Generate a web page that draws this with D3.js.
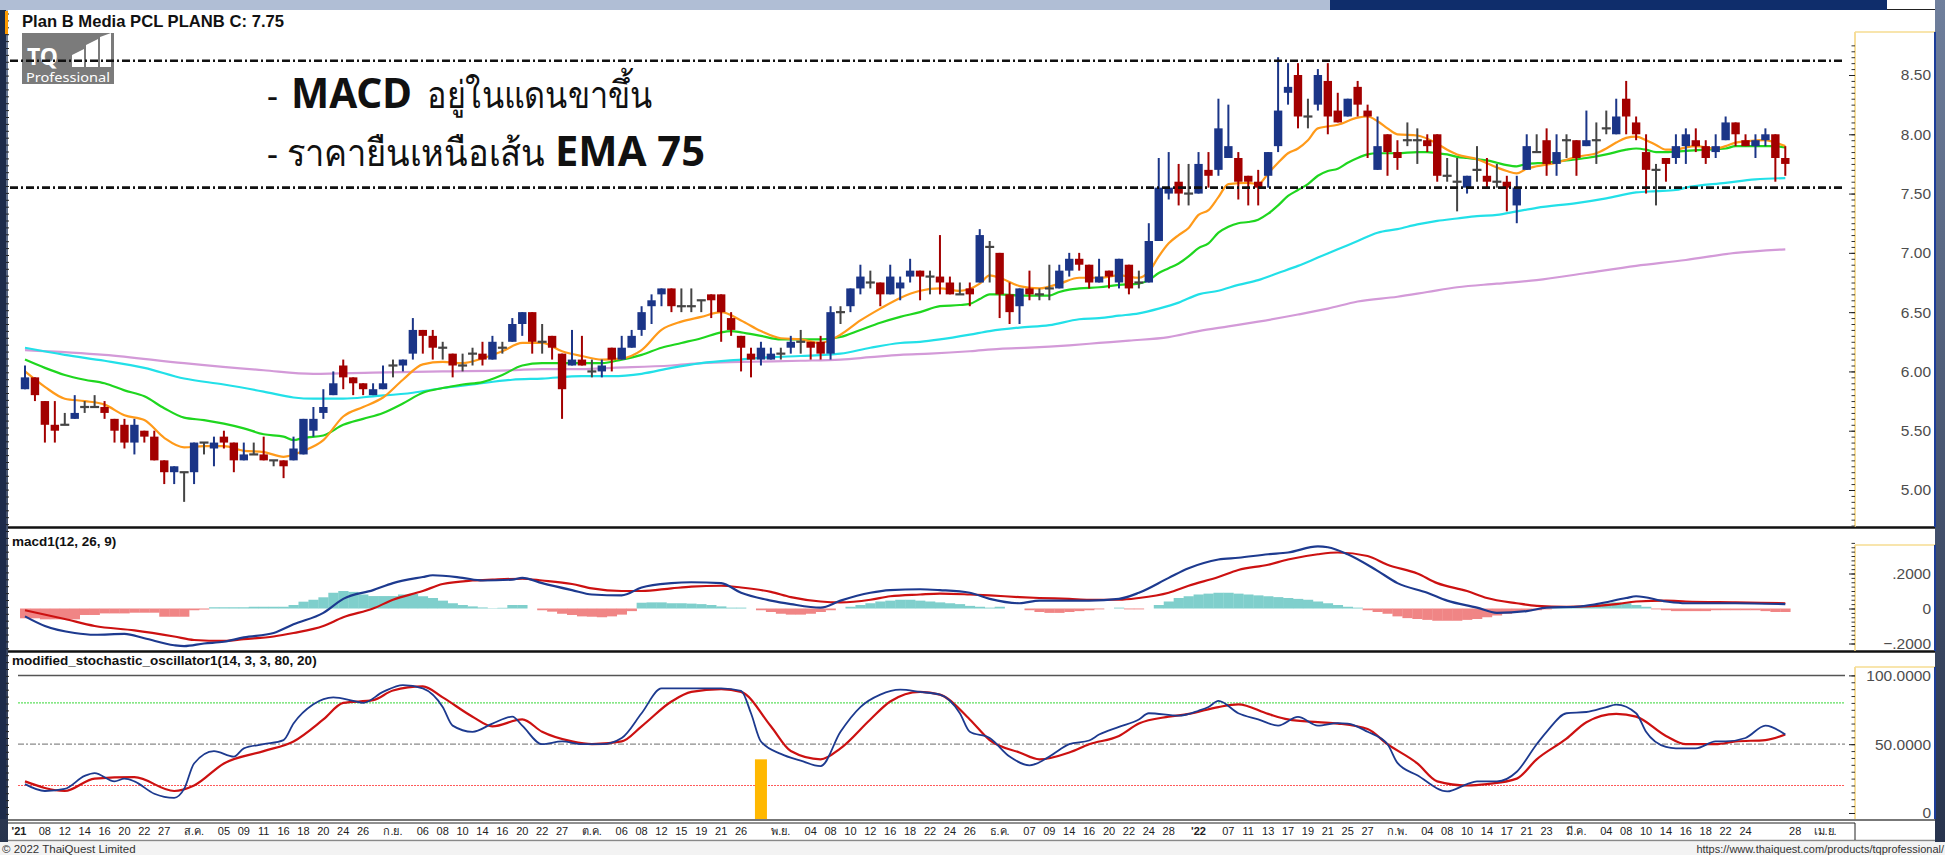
<!DOCTYPE html>
<html>
<head>
<meta charset="utf-8">
<script src="https://cdn.jsdelivr.net/npm/d3@7"></script>
<style>
  body { margin: 0; background: #34425e; overflow: hidden; }
  svg { display: block; }
</style>
</head>
<body>
<script>
// ---------- DATA ----------
const open = [5.85,5.95,5.75,5.55,5.55,5.60,5.70,5.70,5.70,5.60, 5.55,5.40,5.50,5.45,5.25,5.15,5.15,5.15,5.40,5.35,
  5.45,5.40,5.25,5.30,5.30,5.25,5.25,5.25,5.30,5.50, 5.65,5.80,6.05,5.95,5.90,5.80,5.85,6.05,6.05,6.15,
  6.35,6.30,6.20,6.15,6.05,6.15,6.15,6.10,6.20,6.25, 6.40,6.50,6.25,6.30,6.15,6.05,6.10,6.00,6.00,6.20,
  6.10,6.20,6.35,6.55,6.65,6.70,6.55,6.55,6.60,6.65, 6.65,6.45,6.30,6.15,6.10,6.10,6.15,6.20,6.25,6.25,
  6.25,6.15,6.50,6.55,6.70,6.75,6.75,6.65,6.70,6.80, 6.85,6.80,6.80,6.75,6.65,6.70,6.75,7.05,7.00,6.65,
  6.55,6.70,6.65,6.70,6.70,6.85,6.95,6.90,6.75,6.85, 6.75,6.90,6.75,6.75,7.10,7.50,7.60,7.50,7.50,7.70,
  7.70,7.80,7.80,7.65,7.60,7.65,7.90,8.35,8.50,8.15, 8.25,8.45,8.20,8.15,8.40,8.20,7.70,8.00,7.85,7.95,
  7.95,7.95,8.00,7.65,7.60,7.55,7.70,7.65,7.60,7.60, 7.40,7.70,7.85,7.95,7.75,7.95,7.95,7.90,7.95,8.05,
  8.00,8.30,8.10,7.85,7.70,7.80,7.80,7.90,7.95,7.90, 7.85,7.95,8.10,7.95,7.90,7.95,8.00,7.80];
const high = [6.05,5.95,5.75,5.75,5.65,5.80,5.75,5.80,5.75,5.60, 5.60,5.60,5.50,5.50,5.25,5.20,5.15,5.40,5.40,5.45,
  5.50,5.40,5.40,5.40,5.45,5.25,5.25,5.45,5.60,5.70, 5.85,6.00,6.10,5.95,5.90,5.90,6.05,6.10,6.10,6.45,
  6.35,6.35,6.25,6.15,6.15,6.20,6.25,6.30,6.25,6.45, 6.50,6.50,6.40,6.30,6.15,6.35,6.30,6.10,6.10,6.20,
  6.30,6.35,6.55,6.65,6.70,6.70,6.70,6.70,6.60,6.65, 6.65,6.50,6.30,6.20,6.25,6.20,6.20,6.30,6.35,6.25,
  6.30,6.55,6.55,6.70,6.90,6.85,6.75,6.90,6.80,6.95, 6.85,6.85,7.15,6.80,6.75,6.75,7.20,7.10,7.00,6.75,
  6.70,6.85,6.70,6.90,6.90,7.00,7.00,6.90,6.95,6.85, 6.95,6.90,6.85,7.25,7.80,7.85,7.75,7.75,7.85,7.85,
  8.30,8.25,7.85,7.65,7.70,7.85,8.65,8.60,8.60,8.30, 8.55,8.60,8.35,8.30,8.45,8.25,8.15,8.00,7.95,8.10,
  8.05,8.00,8.00,7.80,7.80,7.65,7.90,7.80,7.75,7.65, 7.65,8.00,8.00,8.05,8.00,8.00,7.95,8.20,8.10,8.20,
  8.30,8.45,8.15,8.00,7.75,7.80,8.00,8.05,8.05,7.95, 8.00,8.15,8.10,8.00,8.00,8.05,8.00,7.90];
const low = [5.85,5.75,5.40,5.40,5.55,5.60,5.65,5.70,5.60,5.40, 5.35,5.30,5.40,5.25,5.05,5.05,4.90,5.05,5.30,5.20,
  5.35,5.15,5.25,5.30,5.25,5.20,5.10,5.25,5.30,5.45, 5.60,5.80,5.85,5.80,5.80,5.80,5.85,5.95,6.00,6.10,
  6.15,6.10,6.10,5.95,6.00,6.05,6.05,6.10,6.15,6.25, 6.30,6.15,6.15,6.10,5.60,6.05,6.05,5.95,5.95,6.00,
  6.10,6.20,6.30,6.40,6.55,6.50,6.50,6.50,6.50,6.45, 6.25,6.30,6.00,5.95,6.05,6.10,6.10,6.15,6.15,6.10,
  6.10,6.10,6.40,6.50,6.65,6.70,6.55,6.65,6.60,6.75, 6.60,6.65,6.65,6.65,6.65,6.55,6.75,6.75,6.45,6.40,
  6.40,6.60,6.60,6.60,6.70,6.80,6.85,6.70,6.75,6.70, 6.70,6.65,6.70,6.75,7.10,7.45,7.40,7.40,7.50,7.55,
  7.65,7.80,7.45,7.40,7.40,7.55,7.85,8.25,8.05,8.05, 8.20,8.00,8.10,8.15,8.15,7.80,7.70,7.65,7.70,7.90,
  7.75,7.85,7.60,7.60,7.35,7.50,7.60,7.55,7.55,7.35, 7.25,7.70,7.85,7.65,7.65,7.80,7.65,7.90,7.75,8.00,
  8.00,8.00,7.95,7.50,7.40,7.60,7.75,7.75,7.85,7.75, 7.80,7.95,7.90,7.90,7.80,7.90,7.60,7.65];
const close = [5.95,5.80,5.55,5.50,5.55,5.65,5.70,5.70,5.65,5.50, 5.40,5.55,5.45,5.25,5.15,5.20,5.15,5.40,5.40,5.40,
  5.40,5.25,5.30,5.30,5.25,5.25,5.20,5.35,5.60,5.60, 5.70,5.90,5.95,5.90,5.85,5.85,5.90,6.05,6.10,6.35,
  6.30,6.20,6.20,6.05,6.05,6.15,6.10,6.25,6.20,6.40, 6.50,6.25,6.25,6.20,5.85,6.10,6.05,6.00,6.05,6.10,
  6.20,6.30,6.50,6.60,6.70,6.55,6.55,6.55,6.60,6.60, 6.50,6.35,6.20,6.10,6.20,6.15,6.15,6.25,6.25,6.20,
  6.15,6.50,6.50,6.70,6.80,6.75,6.65,6.80,6.75,6.85, 6.80,6.80,6.75,6.65,6.65,6.65,7.15,7.05,6.65,6.50,
  6.70,6.65,6.65,6.70,6.85,6.95,6.90,6.75,6.80,6.80, 6.95,6.70,6.75,7.10,7.55,7.55,7.50,7.50,7.75,7.65,
  8.05,7.90,7.60,7.60,7.55,7.85,8.20,8.40,8.15,8.15, 8.50,8.15,8.10,8.30,8.25,8.15,7.90,7.85,7.80,7.95,
  7.95,7.90,7.65,7.65,7.60,7.65,7.70,7.60,7.60,7.55, 7.55,7.90,7.85,7.75,7.85,7.95,7.80,7.95,7.95,8.05,
  8.15,8.15,8.00,7.70,7.70,7.75,7.90,8.00,7.90,7.80, 7.90,8.10,8.00,7.90,7.95,8.00,7.80,7.75];

// moving averages as [day index, value]
const ema10 = [[0,6.00],[2,5.87],[4,5.77],[6,5.75],[8,5.72],[10,5.63],[12,5.59],[14,5.44],[16,5.36],[18,5.37],[20,5.37],[22,5.33],[24,5.32],[26,5.28],[28,5.33],[30,5.42],[32,5.62],[34,5.70],[36,5.78],[38,5.93],[40,6.06],[42,6.08],[44,6.07],[46,6.11],[48,6.17],[50,6.24],[52,6.24],[54,6.17],[56,6.13],[58,6.10],[60,6.11],[62,6.18],[64,6.35],[66,6.42],[68,6.46],[70,6.50],[72,6.43],[74,6.34],[76,6.28],[78,6.27],[80,6.24],[82,6.31],[84,6.43],[86,6.53],[88,6.62],[90,6.68],[92,6.70],[94,6.68],[96,6.74],[97,6.81],[98,6.79],[100,6.72],[102,6.70],[104,6.74],[106,6.79],[108,6.79],[110,6.81],[112,6.79],[113,6.84],[114,6.97],[115,7.08],[116,7.15],[117,7.21],[118,7.32],[119,7.36],[120,7.47],[121,7.58],[123,7.59],[124,7.58],[125,7.67],[126,7.76],[127,7.84],[128,7.88],[129,7.95],[130,8.05],[132,8.08],[134,8.14],[135,8.15],[136,8.11],[137,8.05],[138,8.00],[140,7.99],[142,7.92],[143,7.87],[144,7.83],[146,7.79],[148,7.72],[149,7.69],[150,7.67],[151,7.71],[152,7.73],[154,7.76],[156,7.81],[158,7.84],[159,7.88],[160,7.93],[161,7.97],[162,7.98],[163,7.95],[164,7.91],[165,7.87],[166,7.87],[167,7.89],[168,7.90],[170,7.88],[171,7.90],[172,7.93],[173,7.94],[175,7.95],[176,7.93],[177,7.90]];
const ema25 = [[0,6.10],[2,6.03],[4,5.97],[6,5.93],[8,5.90],[10,5.84],[12,5.79],[14,5.69],[16,5.61],[18,5.59],[20,5.56],[22,5.52],[24,5.47],[26,5.45],[27,5.42],[28,5.44],[30,5.46],[32,5.55],[34,5.60],[36,5.65],[38,5.73],[40,5.82],[42,5.86],[44,5.89],[46,5.91],[48,5.97],[50,6.05],[52,6.07],[54,6.07],[56,6.07],[58,6.07],[60,6.10],[62,6.14],[64,6.20],[66,6.24],[68,6.28],[70,6.33],[71,6.34],[72,6.33],[74,6.30],[76,6.27],[78,6.27],[80,6.27],[82,6.29],[84,6.35],[86,6.41],[88,6.46],[90,6.50],[92,6.55],[94,6.56],[95,6.57],[96,6.61],[97,6.65],[98,6.65],[100,6.64],[102,6.64],[103,6.64],[104,6.67],[105,6.69],[106,6.70],[108,6.71],[110,6.73],[112,6.74],[113,6.77],[114,6.83],[115,6.87],[116,6.91],[117,6.97],[118,7.04],[119,7.08],[120,7.17],[121,7.22],[122,7.25],[123,7.26],[124,7.28],[125,7.33],[126,7.40],[127,7.48],[128,7.53],[129,7.58],[130,7.65],[131,7.69],[132,7.71],[133,7.76],[134,7.80],[135,7.83],[136,7.84],[138,7.84],[140,7.85],[141,7.85],[142,7.84],[143,7.83],[144,7.81],[145,7.80],[146,7.79],[147,7.78],[148,7.76],[149,7.74],[150,7.73],[151,7.75],[153,7.76],[155,7.78],[157,7.80],[159,7.83],[161,7.87],[162,7.88],[163,7.87],[164,7.85],[165,7.85],[167,7.86],[169,7.87],[171,7.88],[172,7.90],[174,7.90],[176,7.90],[177,7.89]];
const ema75 = [[0,6.20],[4,6.14],[8,6.09],[12,6.03],[16,5.94],[20,5.89],[24,5.83],[27,5.78],[29,5.77],[32,5.77],[35,5.79],[39,5.82],[42,5.86],[45,5.89],[49,5.93],[52,5.94],[56,5.96],[59,5.96],[62,5.98],[65,6.03],[68,6.07],[72,6.10],[75,6.12],[78,6.13],[82,6.15],[85,6.20],[88,6.24],[90,6.25],[92,6.27],[95,6.31],[97,6.34],[100,6.37],[103,6.39],[106,6.44],[108,6.45],[110,6.47],[112,6.49],[114,6.53],[116,6.58],[118,6.65],[120,6.68],[122,6.73],[124,6.77],[126,6.83],[128,6.89],[130,6.96],[132,7.03],[134,7.10],[136,7.17],[138,7.20],[140,7.24],[142,7.27],[144,7.29],[146,7.31],[148,7.32],[150,7.35],[152,7.38],[156,7.42],[159,7.46],[162,7.51],[164,7.52],[166,7.53],[167,7.55],[171,7.59],[174,7.62],[177,7.63]];
const ema200 = [[0,6.18],[8,6.14],[16,6.07],[24,6.01],[29,5.98],[35,5.99],[42,6.00],[49,6.01],[52,6.02],[56,6.02],[59,6.03],[65,6.05],[68,6.07],[72,6.08],[78,6.09],[82,6.10],[85,6.12],[88,6.14],[91,6.15],[95,6.17],[98,6.19],[101,6.20],[105,6.22],[108,6.24],[111,6.26],[115,6.29],[118,6.34],[121,6.38],[124,6.42],[128,6.48],[131,6.53],[134,6.59],[138,6.63],[141,6.67],[144,6.71],[148,6.74],[152,6.77],[157,6.83],[162,6.89],[167,6.94],[172,7.00],[177,7.03]];

const resistance = 8.62, support = 7.55;

const macdLine = [[0,-0.045],[2,-0.10],[5,-0.14],[7,-0.15],[10,-0.145],[12,-0.17],[15,-0.21],[16,-0.215],[18,-0.20],[20,-0.19],[22,-0.165],[25,-0.14],[27,-0.09],[30,-0.025],[32,0.055],[35,0.105],[37,0.145],[40,0.18],[41,0.19],[44,0.175],[46,0.16],[49,0.165],[50,0.175],[52,0.145],[55,0.105],[57,0.08],[60,0.075],[62,0.12],[65,0.145],[67,0.15],[70,0.145],[72,0.09],[75,0.045],[77,0.025],[80,0.005],[82,0.045],[85,0.09],[87,0.105],[90,0.11],[92,0.105],[95,0.09],[97,0.055],[100,0.03],[102,0.045],[105,0.045],[107,0.045],[110,0.055],[112,0.09],[115,0.175],[117,0.23],[120,0.28],[122,0.29],[125,0.31],[127,0.32],[130,0.355],[131,0.35],[133,0.31],[136,0.215],[138,0.145],[141,0.09],[143,0.045],[146,0.005],[148,-0.025],[151,-0.015],[153,0.005],[156,0.01],[158,0.025],[161,0.06],[162,0.07],[165,0.04],[167,0.03],[172,0.03],[177,0.025]];
const macdSignal = [[0,-0.01],[4,-0.06],[7,-0.10],[11,-0.125],[15,-0.16],[17,-0.18],[20,-0.185],[22,-0.175],[25,-0.16],[27,-0.14],[30,-0.10],[32,-0.05],[35,0.0],[37,0.05],[40,0.10],[42,0.14],[45,0.16],[47,0.165],[50,0.17],[52,0.16],[55,0.14],[57,0.115],[60,0.10],[62,0.10],[65,0.115],[67,0.125],[70,0.13],[72,0.12],[75,0.095],[77,0.065],[80,0.04],[82,0.035],[85,0.05],[87,0.07],[90,0.08],[92,0.085],[95,0.08],[97,0.075],[100,0.065],[102,0.06],[105,0.055],[107,0.05],[110,0.05],[112,0.06],[115,0.09],[117,0.13],[120,0.18],[122,0.22],[125,0.25],[127,0.28],[130,0.31],[132,0.32],[135,0.30],[137,0.25],[140,0.20],[142,0.145],[145,0.10],[147,0.06],[150,0.03],[152,0.015],[155,0.01],[157,0.012],[160,0.025],[162,0.04],[165,0.045],[167,0.04],[172,0.035],[177,0.03]];
const macdHist = [-0.056,-0.056,-0.062,-0.062,-0.062,-0.062,-0.037,-0.037,-0.028,-0.028,-0.028,-0.024,-0.024,-0.024,-0.047,-0.047,-0.047,-0.01,-0.006,
  0.007,0.007,0.007,0.007,0.01,0.01,0.01,0.01,
  0.02,0.039,0.05,0.064,0.09,0.10,0.095,0.08,0.071,0.071,0.071,0.08,0.083,0.07,0.06,0.045,0.03,0.02,0.012,0.006,0.002,
  0.004,0.02,0.02,0.0,-0.01,-0.018,-0.03,-0.037,-0.045,-0.047,-0.05,-0.045,-0.035,-0.015,
  0.033,0.035,0.035,0.03,0.03,0.028,0.025,0.02,0.012, 0.005,0.005,0,
  -0.01,-0.02,-0.03,-0.035,-0.035,-0.03,-0.02, -0.01,0,
  0.01,0.02,0.03,0.04,0.045,0.05,0.05,0.045,0.04,0.035,0.03,0.025,0.015,0.01,
  0.005,0.01,0,0, -0.01,-0.02,-0.025,-0.025,-0.02,-0.015, -0.01,-0.005,0,0.005,-0.005,-0.005,0,
  0.02,0.04,0.06,0.07,0.08,0.085,0.09,0.09,0.085,0.08,0.075,0.07,0.065,0.06,0.055,0.05,0.04,
  0.03,0.02,0.01,0.005,
  -0.01,-0.02,-0.03,-0.045,-0.055,-0.06,-0.065,-0.07,-0.07,-0.07,-0.065,-0.06,-0.05,-0.04,-0.03,-0.02,-0.015,-0.01,
  -0.005,0.005,0.01,0.015, 0.02,0.025,0.03,0.035,0.03,0.02,0.01,
  -0.005,-0.01,-0.015,-0.015,-0.015,-0.015,-0.01,-0.01,-0.01,-0.01,-0.01,-0.015,-0.02,-0.02];

const stochK = [[0,21],[2,16],[4,17.5],[6,27],[7,29],[9,23],[10,25],[11,23],[13,14],[15,11],[16,17.5],[17,36],[19,45],[21,41],[22,47],[24,50],[26,53],[27,65],[29,79],[31,84],[33,81.5],[34,80],[36,88],[38,93],[40,90.5],[42,77],[43,63.5],[45,59],[47,65],[49,70],[50,63.5],[52,50],[54,52],[56,50],[58,50],[60,54.5],[62,72.5],[64,90.5],[67,90.5],[70,90.5],[72,88.7],[73,72.5],[74,52],[76,43],[78,38],[80,34],[82,59],[84,77],[86,86],[88,89.6],[90,88],[92,86],[94,72.5],[95,59],[97,54.5],[99,41],[101,34.6],[103,41],[105,50],[107,52.7],[108,57],[110,62.6],[112,68],[113,72.5],[116,70.7],[118,74.3],[119,77],[120,81.5],[122,72.5],[124,68],[126,63.5],[128,69.8],[130,63.5],[132,65.3],[133,65],[135,59],[137,50],[138,36.4],[140,27.4],[143,15.7],[145,21],[146,23],[148,23],[150,30],[152,50],[153,59],[155,72.5],[157,73.4],[159,77],[160,78.8],[162,72.5],[163,59],[165,48],[166,47],[168,47],[170,52],[171,52],[173,54.5],[175,63.5],[177,57]];
const stochD = [[0,23],[4,16],[7,25],[11,26],[15,16],[17,20],[20,36],[24,45],[27,52],[30,68],[32,80],[35,82],[37,89],[40,92],[42,84],[45,70],[47,63],[50,68],[52,59],[55,52],[57,50],[60,52],[62,63],[65,81],[67,88],[70,90],[72,88],[75,63],[77,45],[80,39],[82,47],[85,68],[87,81],[90,88],[92,86],[95,68],[97,53],[100,44],[102,39],[105,44],[107,50],[110,56],[112,65],[115,70],[117,72],[120,77],[122,79],[125,72],[127,68],[130,66],[132,65],[135,61],[137,50],[140,36],[142,23],[145,20],[147,21],[150,25],[152,39],[155,54],[157,66],[160,72],[162,70],[165,56],[167,50],[170,50],[172,52],[175,53],[177,57]];
const stochSignal = [[74, 39]];

const priceTicks = [5.0, 5.5, 6.0, 6.5, 7.0, 7.5, 8.0, 8.5];
const macdTicks = [-0.2, 0, 0.2];
const stochTicks = [0, 50, 100];

const xTickIdx = [-0.6,2,4,6,8,10,12,14, 17,20,22,24,26,28,30,32,34, 37,40,42,44,46,48,50,52,54, 57,60,62,64,66,68,70,72,
  76,79,81,83,85,87,89,91,93,95, 98,101,103,105,107,109,111,113,115, 118,121,123,125,127,129,131,133,135,
  138,141,143,145,147,149,151,153, 156,159,161,163,165,167,169,171,173,178, 181];
const xTickText = ["'21","08","12","14","16","20","22","27", "ส.ค.","05","09","11","16","18","20","24","26",
  "ก.ย.","06","08","10","14","16","20","22","27", "ต.ค.","06","08","12","15","19","21","26",
  "พ.ย.","04","08","10","12","16","18","22","24","26", "ธ.ค.","07","09","14","16","20","22","24","28",
  "'22","07","11","13","17","19","21","25","27", "ก.พ.","04","08","10","14","17","21","23",
  "มี.ค.","04","08","10","14","16","18","22","24","28", "เม.ย."];

// ---------- LAYOUT ----------
const W = 1945, H = 855;
const PL = 10, PR = 1855, AXR = 1935;
const price = {top: 30, bottom: 527};
const macdP = {top: 529, bottom: 651};
const stochP = {top: 653, bottom: 819};

const x = d3.scaleLinear().domain([0, 177]).range([25, 1785.3]);
const yP = d3.scaleLinear().domain([5, 8.5]).range([490, 75]);
const yM = d3.scaleLinear().domain([-0.2, 0.2]).range([643.5, 573.5]);
const yS = d3.scaleLinear().domain([0, 100]).range([813, 675.4]);
const step = x(1) - x(0);

const svg = d3.select("body").append("svg").attr("width", W).attr("height", H);
const defs = svg.append("defs");
const grad = defs.append("linearGradient").attr("id", "desk").attr("x1", 0).attr("y1", 0).attr("x2", 0).attr("y2", 1);
grad.append("stop").attr("offset", 0).attr("stop-color", "#6f7f9c");
grad.append("stop").attr("offset", 1).attr("stop-color", "#26324c");

// desktop + window frame
svg.append("rect").attr("width", W).attr("height", H).attr("fill", "url(#desk)");
svg.append("rect").attr("x", 0).attr("y", 0).attr("width", 1330).attr("height", 11).attr("fill", "#b0bed5");
svg.append("rect").attr("x", 1330).attr("y", 0).attr("width", 557).attr("height", 12).attr("fill", "#0f2d6b");
svg.append("rect").attr("x", 1887).attr("y", 0).attr("width", 48).attr("height", 10).attr("fill", "#fff");
svg.append("rect").attr("x", 8).attr("y", 10).attr("width", AXR - 8).attr("height", 832).attr("fill", "#fff");
svg.append("line").attr("x1", 1887).attr("x2", AXR).attr("y1", 9.5).attr("y2", 9.5).attr("stroke", "#222");

// left edge ticks
svg.append("rect").attr("x", 0).attr("y", 10).attr("width", 6).attr("height", 809).attr("fill", "#1d2b4a");
svg.append("g").selectAll("line").data(d3.range(14, 819, 6.9)).join("line")
  .attr("x1", 6).attr("x2", 9).attr("y1", d => d).attr("y2", d => d).attr("stroke", "#222");

// title
svg.append("rect").attr("x", 5).attr("y", 11).attr("width", 3).attr("height", 23).attr("fill", "#ff9a00");
svg.append("text").attr("x", 22).attr("y", 27).attr("font-family", "Liberation Sans, Arial, sans-serif")
  .attr("font-weight", "bold").attr("font-size", 17).attr("fill", "#111")
  .attr("textLength", 262).attr("lengthAdjust", "spacingAndGlyphs")
  .text("Plan B Media PCL PLANB C: 7.75");

// clip paths
function clip(id, p) {
  defs.append("clipPath").attr("id", id).append("rect")
    .attr("x", PL).attr("y", p.top).attr("width", PR - PL).attr("height", p.bottom - p.top);
}
clip("cP", price); clip("cM", macdP); clip("cS", stochP);

// panel separators
[527.5, 651.5].forEach(yv => svg.append("line").attr("x1", 8).attr("x2", AXR).attr("y1", yv).attr("y2", yv)
  .attr("stroke", "#111").attr("stroke-width", 2.5));

// right axis boxes
function axisBox(top, bottom) {
  svg.append("line").attr("x1", PR).attr("x2", PR).attr("y1", top).attr("y2", bottom).attr("stroke", "#f3d27a").attr("stroke-width", 1.5);
  svg.append("line").attr("x1", PR).attr("x2", AXR).attr("y1", top).attr("y2", top).attr("stroke", "#f6dc92").attr("stroke-width", 1.5);
  svg.append("line").attr("x1", AXR).attr("x2", AXR).attr("y1", top).attr("y2", bottom).attr("stroke", "#1c3d99").attr("stroke-width", 2);
}
axisBox(32, 527); axisBox(545, 651); axisBox(667, 819);

const axFont = "Liberation Sans, Arial, sans-serif";
function rightAxis(scale, ticks, fmt, minorStep, lo, hi) {
  const g = svg.append("g").attr("transform", `translate(${AXR - 4},0)`)
    .call(d3.axisLeft(scale).tickValues(ticks).tickSize(0).tickPadding(0).tickFormat(fmt));
  g.select(".domain").remove();
  g.selectAll("text").attr("font-family", axFont).attr("font-size", 15.5).attr("fill", "#4d4d4d");
  const minor = d3.range(lo, hi + 1e-9, minorStep);
  const m = svg.append("g").attr("transform", `translate(${PR},0)`)
    .call(d3.axisLeft(scale).tickValues(minor).tickSize(3.5).tickFormat(""));
  m.select(".domain").remove();
  m.selectAll("line").attr("stroke", "#333");
  const M = svg.append("g").attr("transform", `translate(${PR},0)`)
    .call(d3.axisLeft(scale).tickValues(ticks).tickSize(6).tickFormat(""));
  M.select(".domain").remove();
  M.selectAll("line").attr("stroke", "#222");
}
rightAxis(yP, priceTicks, d3.format(".2f"), 0.05, 4.7, 8.75);
rightAxis(yM, macdTicks, d => d === 0 ? "0" : d3.format(".4f")(d).replace("0.", "."), 0.025, -0.2, 0.375);
rightAxis(yS, stochTicks, d => d === 0 ? "0" : d3.format(".4f")(d), 5, 0, 100);

// ---------- PRICE PANEL ----------
const gP = svg.append("g").attr("clip-path", "url(#cP)");

// logo
const logo = svg.append("g").attr("transform", "translate(22,33)");
logo.append("rect").attr("width", 92).attr("height", 51).attr("fill", "#7b7b7b");
logo.append("text").attr("x", 5).attr("y", 32).attr("font-family", "Noto Sans, sans-serif").attr("font-weight", "bold")
  .attr("font-size", 23).attr("fill", "#fff").text("TQ");
logo.append("path").attr("d", "M50,34 L50,22 L62,16 L62,34 Z M64,34 L64,12 L76,6 L76,34 Z M78,34 L78,4 L89,0 L89,34 Z")
  .attr("fill", "#fff");
logo.append("text").attr("x", 4).attr("y", 49).attr("font-family", "Noto Sans, sans-serif")
  .attr("font-size", 12).attr("fill", "#fff").attr("textLength", 84).attr("lengthAdjust", "spacingAndGlyphs")
  .text("Professional");

// EMA lines
const lineP = d3.line().x(d => x(d[0])).y(d => yP(d[1])).curve(d3.curveMonotoneX);
[[ema200, "#d39ad8"], [ema75, "#22e0e8"], [ema25, "#1fd61f"], [ema10, "#ff9a1a"]].forEach(([data, col]) => {
  gP.append("path").datum(data).attr("d", lineP).attr("fill", "none").attr("stroke", col).attr("stroke-width", 2.2);
});

// support / resistance
[resistance, support].forEach(v => svg.append("line").attr("x1", PL).attr("x2", 1845)
  .attr("y1", yP(v)).attr("y2", yP(v)).attr("stroke", "#111").attr("stroke-width", 2.6)
  .attr("stroke-dasharray", "8,3,2,3"));

// candles
const upC = "#1b3587", dnC = "#a30000", flatC = "#444";
const col = i => close[i] > open[i] ? upC : close[i] < open[i] ? dnC : flatC;
const candles = gP.append("g").selectAll("g").data(d3.range(open.length)).join("g");
candles.append("line").attr("x1", i => x(i)).attr("x2", i => x(i))
  .attr("y1", i => yP(high[i])).attr("y2", i => yP(low[i])).attr("stroke", col).attr("stroke-width", 2);
candles.filter(i => open[i] !== close[i]).append("rect")
  .attr("x", i => x(i) - 4.2).attr("width", 8.4)
  .attr("y", i => yP(Math.max(open[i], close[i])))
  .attr("height", i => Math.max(2, yP(Math.min(open[i], close[i])) - yP(Math.max(open[i], close[i]))))
  .attr("fill", col);
candles.filter(i => open[i] === close[i]).append("line")
  .attr("x1", i => x(i) - 4.5).attr("x2", i => x(i) + 4.5)
  .attr("y1", i => yP(open[i])).attr("y2", i => yP(open[i])).attr("stroke", flatC).attr("stroke-width", 2.2);

// annotation
const thaiFont = "Noto Sans, Tahoma, sans-serif";
const note = (xp, yp, size, weight, txt, len) => {
  const t = svg.append("text").attr("x", xp).attr("y", yp).attr("font-family", thaiFont)
    .attr("font-size", size).attr("font-weight", weight).attr("fill", "#111").text(txt);
  if (len) t.attr("textLength", len).attr("lengthAdjust", "spacingAndGlyphs");
};
note(267, 108, 34, "normal", "-");
note(291, 108, 42, "bold", "MACD", 121);
note(427, 108, 38, "normal", "อยู่ในแดนขาขึ้น", 225);
note(267, 166, 34, "normal", "-");
note(287, 166, 38, "normal", "ราคายืนเหนือเส้น", 258);
note(555, 166, 42, "bold", "EMA 75", 150);

// ---------- MACD PANEL ----------
const gM = svg.append("g").attr("clip-path", "url(#cM)");
gM.append("g").selectAll("rect").data(macdHist.map((v, i) => [i, v])).join("rect")
  .attr("x", d => x(d[0]) - step / 2).attr("width", step + 0.3)
  .attr("y", d => Math.min(yM(0), yM(d[1]))).attr("height", d => Math.abs(yM(d[1]) - yM(0)))
  .attr("fill", d => d[1] >= 0 ? "#7fcfcc" : "#f08585");
const lineM = d3.line().x(d => x(d[0])).y(d => yM(d[1])).curve(d3.curveMonotoneX);
gM.append("path").datum(macdSignal).attr("d", lineM).attr("fill", "none").attr("stroke", "#cc1111").attr("stroke-width", 2.2);
gM.append("path").datum(macdLine).attr("d", lineM).attr("fill", "none").attr("stroke", "#1d3a8f").attr("stroke-width", 2.2);
svg.append("text").attr("x", 12).attr("y", 546).attr("font-family", axFont).attr("font-weight", "bold")
  .attr("font-size", 13.5).attr("fill", "#111").text("macd1(12, 26, 9)");

// ---------- STOCHASTIC PANEL ----------
const gS = svg.append("g").attr("clip-path", "url(#cS)");
const lvl = (v, c, dash, w) => gS.append("line").attr("x1", 18).attr("x2", 1845).attr("y1", yS(v)).attr("y2", yS(v))
  .attr("stroke", c).attr("stroke-width", w).attr("stroke-dasharray", dash);
lvl(100, "#555", null, 1.5);
lvl(80, "#5fe05f", "2,1", 1.2);
lvl(50, "#8a8a8a", "6,2,2,2", 1.2);
lvl(20, "#ff5a5a", "2,1", 1.2);
gS.append("g").selectAll("rect").data(stochSignal).join("rect")
  .attr("x", d => x(d[0]) - 6).attr("width", 12).attr("y", d => yS(d[1])).attr("height", d => stochP.bottom - yS(d[1]))
  .attr("fill", "#ffb800");
const lineS = d3.line().x(d => x(d[0])).y(d => yS(d[1])).curve(d3.curveMonotoneX);
gS.append("path").datum(stochD).attr("d", lineS).attr("fill", "none").attr("stroke", "#cc1111").attr("stroke-width", 2.2);
gS.append("path").datum(stochK).attr("d", lineS).attr("fill", "none").attr("stroke", "#1d3a8f").attr("stroke-width", 1.8);
svg.append("text").attr("x", 12).attr("y", 665).attr("font-family", axFont).attr("font-weight", "bold")
  .attr("font-size", 13.5).attr("fill", "#111").text("modified_stochastic_oscillator1(14, 3, 3, 80, 20)");

// ---------- X AXIS ----------
svg.append("line").attr("x1", 8).attr("x2", AXR).attr("y1", 820).attr("y2", 820).attr("stroke", "#777").attr("stroke-width", 2);
svg.append("line").attr("x1", 8).attr("x2", PR).attr("y1", 823).attr("y2", 823).attr("stroke", "#222").attr("stroke-width", 1);
svg.append("line").attr("x1", 8).attr("x2", AXR).attr("y1", 840.5).attr("y2", 840.5).attr("stroke", "#888").attr("stroke-width", 1.5);
svg.append("line").attr("x1", PR).attr("x2", PR).attr("y1", 823).attr("y2", 840).attr("stroke", "#222");
svg.append("g").selectAll("text").data(xTickIdx.map((d, i) => [d, xTickText[i]])).join("text")
  .attr("x", d => x(d[0])).attr("y", 835).attr("text-anchor", "middle")
  .attr("font-family", "Liberation Sans, Arial, sans-serif").attr("font-size", 11)
  .attr("font-weight", d => d[1].startsWith("'") ? "bold" : "normal")
  .attr("fill", "#222").text(d => d[1]);

// ---------- FOOTER ----------
svg.append("rect").attr("x", 0).attr("y", 842).attr("width", W).attr("height", 13).attr("fill", "#f3f3f3");
svg.append("text").attr("x", 2).attr("y", 853).attr("font-family", axFont).attr("font-size", 11.5).attr("fill", "#333")
  .text("© 2022 ThaiQuest Limited");
svg.append("text").attr("x", W - 1).attr("y", 853).attr("text-anchor", "end").attr("font-family", axFont)
  .attr("font-size", 11).attr("fill", "#333").text("https://www.thaiquest.com/products/tqprofessional/");
</script>
</body>
</html>
